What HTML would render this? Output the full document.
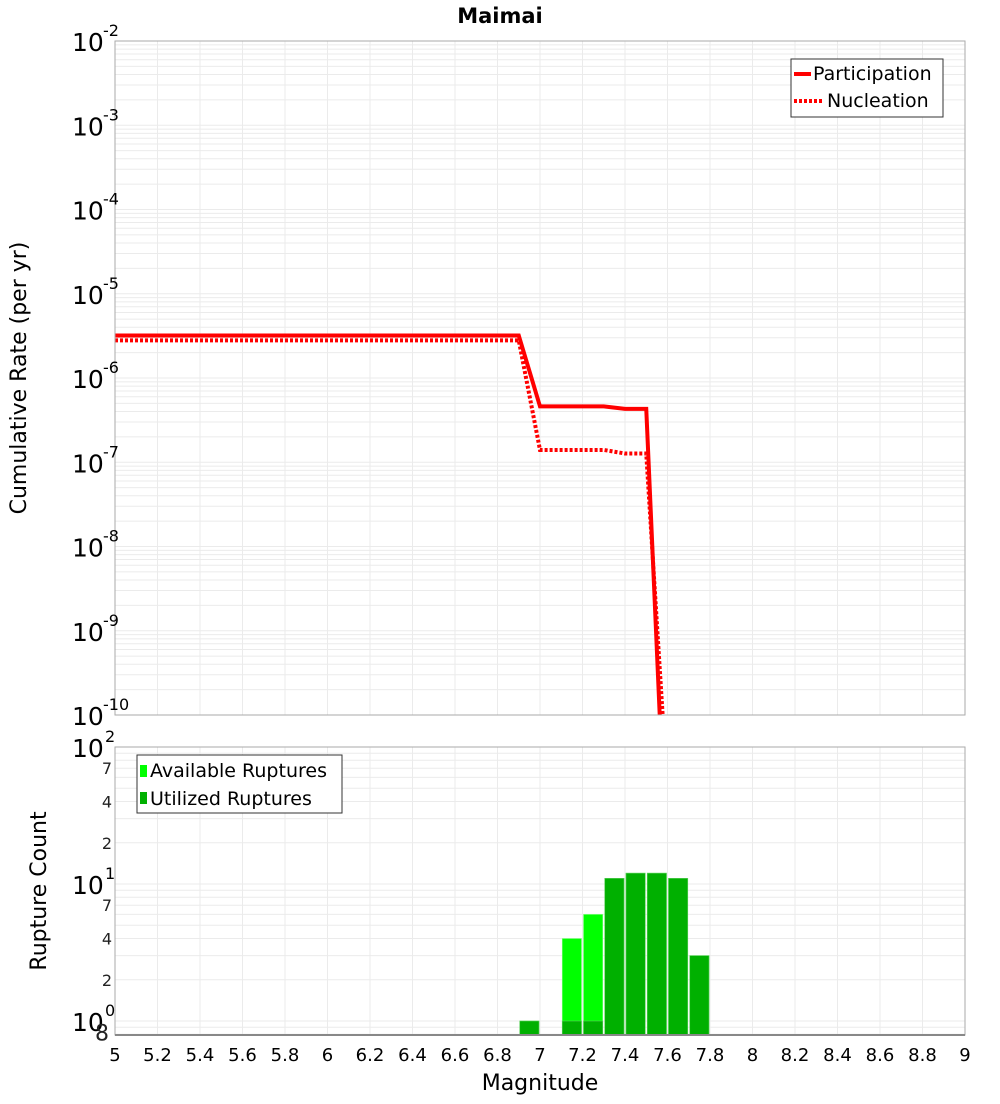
<!DOCTYPE html>
<html><head><meta charset="utf-8"><style>
body{margin:0;background:#fff;font-family:"DejaVu Sans","Liberation Sans",sans-serif}
</style></head><body>
<svg id="c" width="1000" height="1100" xmlns="http://www.w3.org/2000/svg" font-family="DejaVu Sans, Liberation Sans, sans-serif">
<text x="500" y="23" text-anchor="middle" font-size="21" font-weight="bold">Maimai</text>
<g id="topG"></g>
<g id="botG"></g>
<text transform="translate(26,378) rotate(-90)" text-anchor="middle" font-size="22">Cumulative Rate (per yr)</text>
<text transform="translate(46,891) rotate(-90)" text-anchor="middle" font-size="22">Rupture Count</text>
<text x="540" y="1090" text-anchor="middle" font-size="22">Magnitude</text>
</svg>
<script>
const mags=[5.0,5.1,5.2,5.3,5.4,5.5,5.6,5.7,5.8,5.9,6.0,6.1,6.2,6.3,6.4,6.5,6.6,6.7,6.8,6.9,7.0,7.1,7.2,7.3,7.4,7.5,7.6];
const participation=[3.2e-6,3.2e-6,3.2e-6,3.2e-6,3.2e-6,3.2e-6,3.2e-6,3.2e-6,3.2e-6,3.2e-6,3.2e-6,3.2e-6,3.2e-6,3.2e-6,3.2e-6,3.2e-6,3.2e-6,3.2e-6,3.2e-6,3.2e-6,4.6e-7,4.6e-7,4.6e-7,4.6e-7,4.3e-7,4.3e-7,8e-13];
const nucleation=[2.8e-6,2.8e-6,2.8e-6,2.8e-6,2.8e-6,2.8e-6,2.8e-6,2.8e-6,2.8e-6,2.8e-6,2.8e-6,2.8e-6,2.8e-6,2.8e-6,2.8e-6,2.8e-6,2.8e-6,2.8e-6,2.8e-6,2.8e-6,1.4e-7,1.4e-7,1.4e-7,1.4e-7,1.27e-7,1.27e-7,1.2e-11];
const binMags=[6.9,7.1,7.2,7.3,7.4,7.5,7.6,7.7];
const available=[1,4,6,11,12,12,11,3];
const utilized=[1,1,1,11,12,12,11,3];
const xTicks=[5,5.2,5.4,5.6,5.8,6,6.2,6.4,6.6,6.8,7,7.2,7.4,7.6,7.8,8,8.2,8.4,8.6,8.8,9];

const NS='http://www.w3.org/2000/svg';
const L=115,R=965,T1=41,B1=715,T2=747,B2=1035;
const xs=m=>L+(m-5)/4*(R-L);
const y1=v=>T1+(-2-Math.log10(v))/8*(B1-T1);
const bd=137;
const y2=v=>T2+(2-Math.log10(v))*bd;
function el(p,t,a){const e=document.createElementNS(NS,t);for(const k in a)e.setAttribute(k,a[k]);p.appendChild(e);return e;}
const topG=document.getElementById('topG'),botG=document.getElementById('botG');
el(topG,'rect',{x:L,y:T1,width:R-L,height:B1-T1,fill:'#fff'});
el(botG,'rect',{x:L,y:T2,width:R-L,height:B2-T2,fill:'#fff'});
const gt=el(topG,'g',{stroke:'#ebebeb','stroke-width':1});


for(let e=-10;e<-2;e++)for(let k=1;k<10;k++){const yy=y1(k*Math.pow(10,e));el(gt,'line',{x1:L,x2:R,y1:yy,y2:yy});}
const gb=el(botG,'g',{stroke:'#ebebeb','stroke-width':1});


for(const v of [0.8,0.9,1,2,3,4,5,6,7,8,9,10,20,30,40,50,60,70,80,90]){const yy=y2(v);if(yy>=T2&&yy<=B2)el(gb,'line',{x1:L,x2:R,y1:yy,y2:yy});}
for(const m of xTicks){el(gt,'line',{x1:xs(m),x2:xs(m),y1:T1,y2:B1});el(gb,'line',{x1:xs(m),x2:xs(m),y1:T2,y2:B2});}
const clip=el(topG,'clipPath',{id:'cp'});el(clip,'rect',{x:L,y:T1,width:R-L,height:B1-T1});
function line(vals,dash,name){const p=el(topG,'polyline',{points:mags.map((m,i)=>xs(m)+','+y1(vals[i])).join(' '),fill:'none',stroke:'#f00','stroke-width':4,'clip-path':'url(#cp)'});if(dash)p.setAttribute('stroke-dasharray','3,2');

}
line(nucleation,true,'nucleation-line');line(participation,false,'participation-line');
const bw=(xs(5.1)-xs(5))-2;
binMags.forEach((m,i)=>{const b=el(botG,'rect',{x:xs(m)+1,y:y2(available[i]),width:bw,height:B2-y2(available[i]),fill:'#00ff00',stroke:'#7fff7f','stroke-width':0.6});


const u=el(botG,'rect',{x:xs(m)+1,y:y2(utilized[i]),width:bw,height:B2-y2(utilized[i]),fill:'#00b000',stroke:'#5fcf5f','stroke-width':0.6});

});
el(topG,'rect',{x:L,y:T1,width:R-L,height:B1-T1,fill:'none',stroke:'#aaa'});
el(botG,'rect',{x:L,y:T2,width:R-L,height:B2-T2,fill:'none',stroke:'#aaa'});
el(botG,'line',{x1:L,x2:R,y1:B2,y2:B2,stroke:'#888','stroke-width':2});
for(let e=-10;e<=-2;e++){const t=el(topG,'text',{x:72,y:y1(Math.pow(10,e))+10,'font-size':25});t.textContent='10';


const s=el(topG,'text',{x:103,y:y1(Math.pow(10,e))-5,'font-size':16});s.textContent=String(e);}
[[100,'2'],[10,'1'],[1,'0']].forEach(([v,ex])=>{const t=el(botG,'text',{x:72,y:y2(v)+10,'font-size':25});t.textContent='10';


const s=el(botG,'text',{x:105,y:y2(v)-5,'font-size':16});s.textContent=ex;});
[[70,'7'],[40,'4'],[20,'2'],[7,'7'],[4,'4'],[2,'2'],[0.8,'8']].forEach(([v,l])=>{const t=el(botG,'text',{x:v==0.8?102:107,y:y2(v)+6,'font-size':v==0.8?22:16,'text-anchor':'middle',fill:'#222'});t.textContent=l;

});
for(const m of xTicks){const t=el(botG,'text',{x:xs(m),y:1061,'font-size':18,'text-anchor':'middle'});t.textContent=String(m);

}
const lg=el(topG,'g',{});


el(lg,'rect',{x:791,y:59,width:152,height:58,fill:'#fff',stroke:'#333'});
el(lg,'line',{x1:794,x2:811,y1:74,y2:74,stroke:'#f00','stroke-width':4});
el(lg,'line',{x1:794,x2:822,y1:101,y2:101,stroke:'#f00','stroke-width':4,'stroke-dasharray':'3,2'});
let t=el(lg,'text',{x:813,y:80,'font-size':19});t.textContent='Participation';
t=el(lg,'text',{x:827,y:107,'font-size':19});t.textContent='Nucleation';
const lb=el(botG,'g',{});


el(lb,'rect',{x:137,y:755,width:205,height:58,fill:'#fff',stroke:'#333'});
el(lb,'rect',{x:140,y:765,width:7,height:12,fill:'#00ff00'});
el(lb,'rect',{x:140,y:792,width:7,height:12,fill:'#00b000'});
t=el(lb,'text',{x:150,y:777,'font-size':19});t.textContent='Available Ruptures';
t=el(lb,'text',{x:150,y:805,'font-size':19});t.textContent='Utilized Ruptures';
</script>
</body></html>
